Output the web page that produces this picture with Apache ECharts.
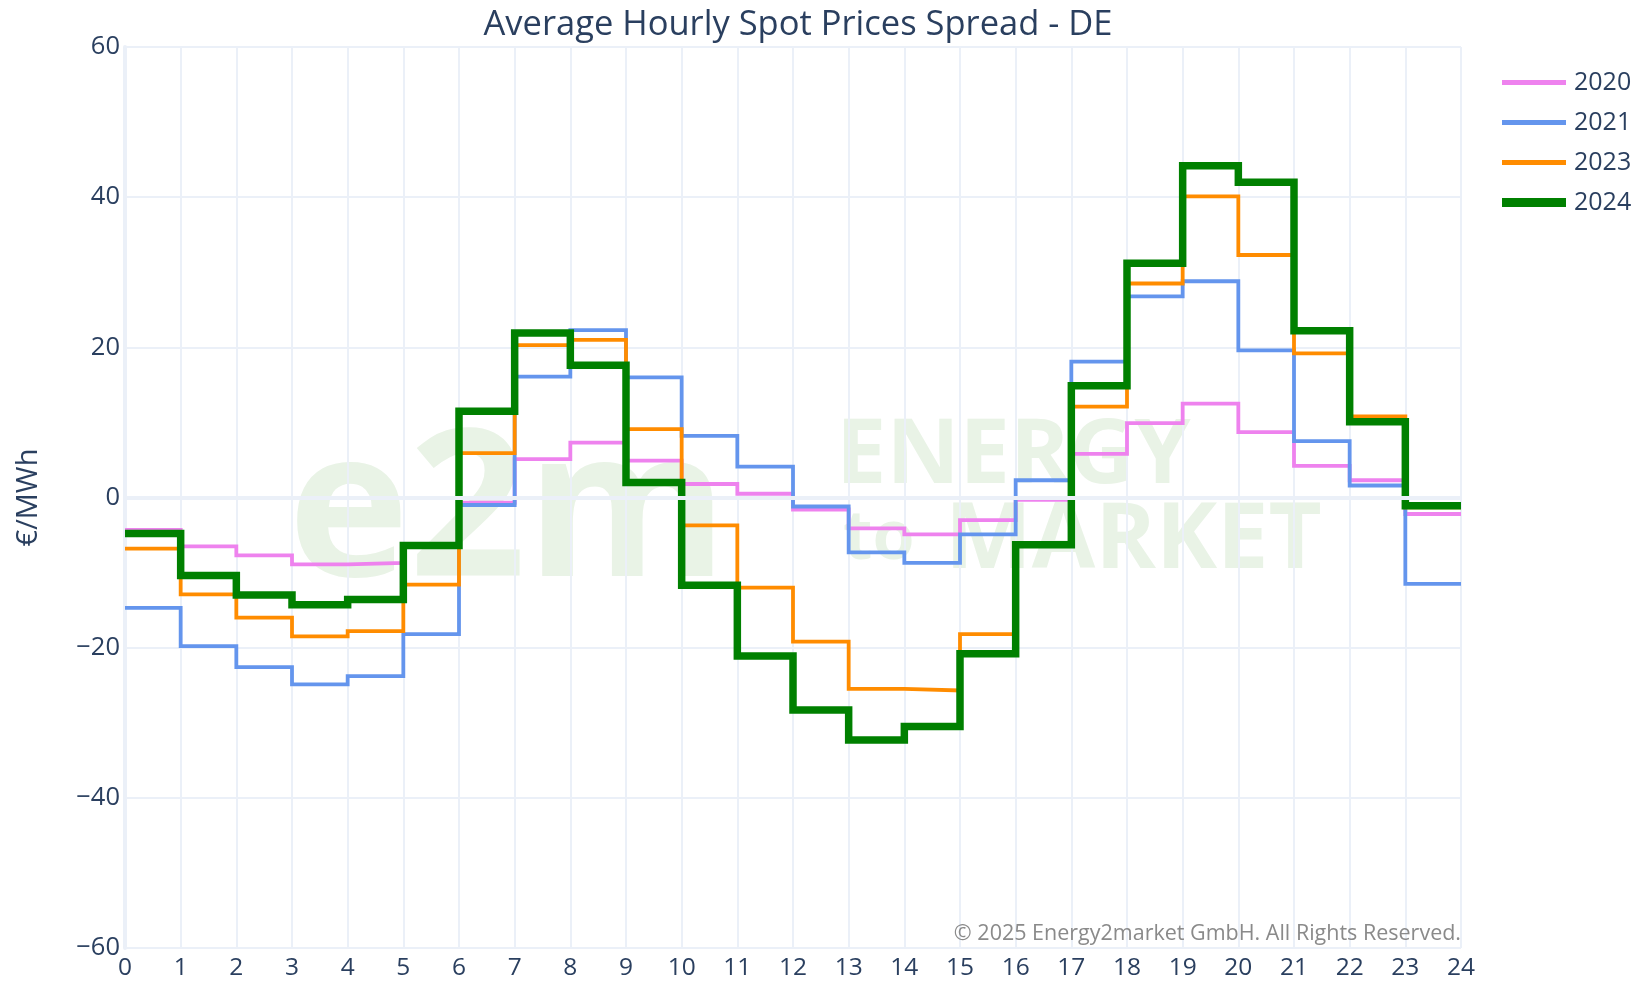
<!DOCTYPE html>
<html>
<head>
<meta charset="utf-8">
<script src="https://cdn.jsdelivr.net/npm/echarts@6/dist/echarts.min.js"></script>
<style>
  html, body { margin: 0; padding: 0; background: #fff; }
  #chart { width: 1639px; height: 981px; }
</style>
</head>
<body>
<div id="chart"></div>
<script>
// hours of the day, each value holds until the next hour
const hours = [0, 1, 2, 3, 4, 5, 6, 7, 8, 9, 10, 11, 12, 13, 14, 15, 16, 17, 18, 19, 20, 21, 22, 23]
const endHour = 24

const years = ['2020', '2021', '2023', '2024']
const spread2020 = [-4.3, -6.5, -7.7, -8.9, -8.7, -6.2, -0.7, 5.1, 7.3, 4.9, 1.8, 0.5, -1.6, -4.1, -4.9, -3.0, -0.3, 5.8, 9.9, 12.5, 8.7, 4.2, 2.3, -2.2]
const spread2021 = [-14.7, -19.8, -22.6, -24.9, -23.8, -18.2, -1.0, 16.1, 22.3, 16.0, 8.2, 4.1, -1.2, -7.3, -8.7, -4.9, 2.3, 18.1, 26.8, 28.8, 19.6, 7.5, 1.6, -11.5]
const spread2023 = [-6.8, -12.9, -16.0, -18.5, -17.8, -11.6, 5.9, 20.3, 21.0, 9.1, -3.7, -12.0, -19.2, -25.5, -25.7, -18.2, -6.3, 12.1, 28.5, 40.1, 32.3, 19.2, 10.8, -1.3]
const spread2024 = [-4.8, -10.4, -13.0, -14.3, -13.6, -6.4, 11.5, 21.9, 17.6, 2.0, -11.7, -21.1, -28.3, -32.3, -30.5, -20.8, -6.3, 14.9, 31.2, 44.2, 42.0, 22.2, 10.1, -1.1]

const yTicks = { min: -60, max: 60, step: 20 }

const textColor = '#2a3f5f'
const gridColor = '#EBF0F8'
const markColor = '#e9f3e6'
const font = '"Open Sans", "Noto Sans", sans-serif'

// pair hours with values and repeat the last value at hour 24
function toSteps(values) {
    const pts = hours.map((h, i) => [h, values[i]])
    pts.push([endHour, values[values.length - 1]])
    return pts
}

function stepSeries(name, values, color, width) {
    return {
        name: name,
        type: 'line',
        step: 'end',
        symbol: 'none',
        data: toSteps(values),
        lineStyle: { color: color, width: width, join: 'miter', cap: 'butt' },
        itemStyle: { color: color },
        z: 3
    }
}

const legendBase = {
    orient: 'vertical',
    left: 1497,
    itemWidth: 64,
    itemGap: 15,
    icon: 'rect',
    textStyle: { fontFamily: font, fontSize: 25, color: textColor, padding: [0, 0, 0, 3] }
}

const chart = echarts.init(document.getElementById('chart'))

const option = {
    backgroundColor: '#fff',
    animation: false,
    title: {
        text: 'Average Hourly Spot Prices Spread - DE',
        left: 793,
        textAlign: 'center',
        top: 3,
        textStyle: { fontFamily: font, fontSize: 34.5, fontWeight: 'normal', color: textColor }
    },
    legend: [
        Object.assign({}, legendBase, { top: 65, itemHeight: 5, data: years.slice(0, 3) }),
        Object.assign({}, legendBase, { top: 185, itemHeight: 9, data: years.slice(3) })
    ],
    grid: { left: 125, right: 178, top: 47, bottom: 31, containLabel: false },
    xAxis: {
        type: 'value',
        min: 0,
        max: endHour,
        interval: 1,
        axisLine: { show: false },
        axisTick: { show: false },
        axisLabel: { fontFamily: font, fontSize: 24.5, color: textColor, margin: 8 },
        splitLine: { show: true, lineStyle: { color: gridColor, width: 2 } }
    },
    yAxis: {
        type: 'value',
        min: yTicks.min,
        max: yTicks.max,
        interval: yTicks.step,
        name: '€/MWh',
        nameLocation: 'middle',
        nameGap: 82,
        nameTextStyle: { fontFamily: font, fontSize: 29, color: textColor },
        axisLine: { show: true, lineStyle: { color: gridColor, width: 4 } },
        axisTick: { show: false },
        axisLabel: {
            fontFamily: font, fontSize: 25.5, color: textColor, margin: 5,
            formatter: v => (v < 0 ? '\u2212' + Math.abs(v) : String(v))
        },
        splitLine: { show: true, lineStyle: { color: gridColor, width: 2 } }
    },
    graphic: [
        // faint company watermark behind the plot
        { type: 'text', z: -1, left: 288, top: 415, style: { text: 'e2m', fontFamily: font, fontSize: 205, fontWeight: 'bold', fill: markColor } },
        { type: 'text', z: -1, left: 836, top: 412, style: { text: 'ENERGY', fontFamily: font, fontSize: 90, fontWeight: 'bold', fill: markColor } },
        { type: 'text', z: -1, left: 843, top: 506, style: { text: 'to', fontFamily: font, fontSize: 68, fontWeight: 'bold', fill: markColor } },
        { type: 'text', z: -1, left: 945, top: 496, style: { text: 'MARKET', fontFamily: font, fontSize: 92, fontWeight: 'bold', fill: markColor } },
        {
            type: 'text', z: 10, right: 178, top: 923,
            style: { text: '© 2025 Energy2market GmbH. All Rights Reserved.', fontFamily: font, fontSize: 21.5, fill: '#8a8a8a' }
        }
    ],
    series: [
        {
            name: 'zero',
            type: 'line',
            data: [],
            z: 1,
            markLine: {
                silent: true,
                symbol: 'none',
                label: { show: false },
                lineStyle: { color: gridColor, width: 4, type: 'solid' },
                data: [{ yAxis: 0 }]
            }
        },
        stepSeries('2020', spread2020, '#EE82EE', 3.8),
        stepSeries('2021', spread2021, '#6495ED', 3.8),
        stepSeries('2023', spread2023, '#FF8C00', 3.8),
        stepSeries('2024', spread2024, '#008000', 7.5)
    ]
}

chart.setOption(option)
</script>
</body>
</html>
